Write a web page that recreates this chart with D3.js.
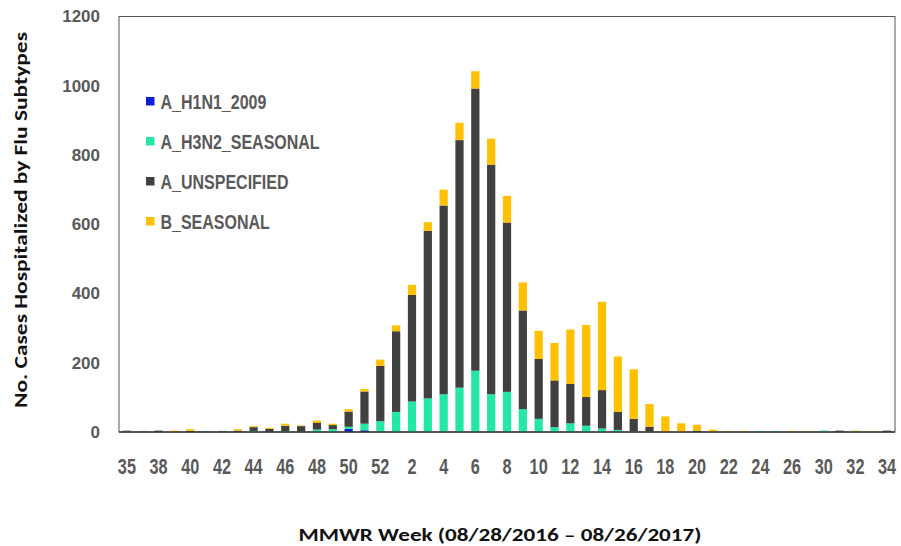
<!DOCTYPE html>
<html>
<head>
<meta charset="utf-8">
<script src="https://cdn.jsdelivr.net/npm/d3@7"></script>
<style>
  body { margin: 0; background: #fff; }
  svg { display: block; }
</style>
</head>
<body>
<div id="chart"></div>
<script>
// MMWR weeks 2016-2017 season (every other label is shown on the axis)
const weeks = [35, 37, 38, 39, 40, 41, 42, 43, 44, 45, 46, 47, 48, 49, 50, 51, 52,
  1, 2, 3, 4, 5, 6, 7, 8, 9, 10, 11, 12, 13, 14, 15, 16, 17, 18, 19, 20,
  21, 22, 23, 24, 25, 26, 28, 30, 31, 32, 33, 34]

// cases per subtype, one value per week
const h1n1 = [0, 0, 0, 0, 0, 0, 0, 0, 0, 0, 0, 0, 0, 0, 9, 5, 1,
  0, 0, 0, 0, 0, 0, 0, 0, 0, 0, 0, 0, 0, 0, 0, 0, 0, 0, 0, 0,
  0, 0, 0, 0, 0, 0, 0, 0, 0, 0, 0, 0]
const h3n2 = [2, 2, 0, 0, 0, 2, 1, 0, 3, 0, 2, 1, 7, 8, 6, 19, 30,
  58, 88, 97, 109, 128, 177, 109, 116, 66, 38, 14, 25, 18, 10, 6, 2, 1, 0, 0, 0,
  0, 0, 0, 3, 3, 0, 0, 4, 0, 2, 0, 0]
const aUnspecified = [2, 1, 4, 0, 3, 1, 2, 4, 11, 9, 16, 16, 19, 12, 44, 93, 160,
  233, 308, 484, 545, 715, 815, 663, 489, 285, 173, 135, 114, 83, 111, 52, 36, 14, 1, 0, 4,
  0, 0, 0, 0, 0, 0, 0, 0, 4, 0, 0, 4]
const bSeasonal = [0, 0, 0, 4, 5, 0, 0, 4, 3, 3, 6, 2, 7, 4, 7, 7, 18,
  17, 29, 25, 46, 50, 50, 75, 77, 81, 81, 108, 157, 208, 255, 160, 143, 66, 44, 25, 17,
  7, 3, 3, 0, 0, 3, 2, 0, 0, 2, 2, 0]

const subtypes = ["A_H1N1_2009", "A_H3N2_SEASONAL", "A_UNSPECIFIED", "B_SEASONAL"]
const subtypeColors = ["#0a1fd2", "#22e8a2", "#404040", "#ffc000"]
const yTicks = [0, 200, 400, 600, 800, 1000, 1200]

// build rows for the stack layout
const rows = weeks.map(function(w, i) {
  return {week: w, "A_H1N1_2009": h1n1[i], "A_H3N2_SEASONAL": h3n2[i],
    "A_UNSPECIFIED": aUnspecified[i], "B_SEASONAL": bSeasonal[i]}
})

const W = 901, H = 546
const plot = {left: 119, right: 895, top: 16.5, bottom: 432}

const svg = d3.select("#chart").append("svg")
  .attr("width", W).attr("height", H)

svg.append("rect").attr("width", W).attr("height", H).attr("fill", "#fff")

const x = d3.scaleBand()
  .domain(weeks)
  .range([plot.left, plot.right])
  .paddingInner(0.48)
  .paddingOuter(0.24)

const y = d3.scaleLinear()
  .domain([0, 1200])
  .range([plot.bottom, plot.top])

const color = d3.scaleOrdinal().domain(subtypes).range(subtypeColors)

// frame around the plot area
svg.append("rect")
  .attr("x", plot.left).attr("y", plot.top)
  .attr("width", plot.right - plot.left).attr("height", plot.bottom - plot.top)
  .attr("fill", "none").attr("stroke", "#555").attr("stroke-width", 1)

// stacked bars
const series = d3.stack().keys(subtypes)(rows)
svg.append("g").selectAll("g")
  .data(series)
  .enter().append("g")
    .attr("fill", function(s) { return color(s.key) })
  .selectAll("rect")
  .data(function(s) { return s })
  .enter().append("rect")
    .attr("x", function(d) { return x(d.data.week) })
    .attr("width", x.bandwidth())
    .attr("y", function(d) { return y(d[1]) })
    .attr("height", function(d) { return y(d[0]) - y(d[1]) })

// bottom axis line
svg.append("line")
  .attr("x1", plot.left).attr("x2", plot.right)
  .attr("y1", plot.bottom).attr("y2", plot.bottom)
  .attr("stroke", "#3a3a3a").attr("stroke-width", 1.5)

// y axis labels
const yAxis = svg.append("g")
  .attr("transform", "translate(" + plot.left + ",0)")
  .call(d3.axisLeft(y).tickValues(yTicks).tickFormat(d3.format("d")).tickSize(0).tickPadding(19))
yAxis.select(".domain").remove()
yAxis.selectAll("text")
  .attr("fill", "#595959")
  .style("font-family", "'Liberation Sans', Arial, sans-serif")
  .style("font-weight", "bold")
  .style("font-size", "17px")

// x axis labels, every other week
const xAxis = svg.append("g")
  .attr("transform", "translate(0," + plot.bottom + ")")
  .call(d3.axisBottom(x)
    .tickValues(weeks.filter(function(w, i) { return i % 2 === 0 }))
    .tickSize(0).tickPadding(0))
xAxis.select(".domain").remove()
xAxis.selectAll("text")
  .attr("fill", "#595959")
  .attr("y", 0)
  .attr("dy", 0)
  .attr("transform", "translate(0,42) scale(0.74,1)")
  .style("font-family", "'Liberation Sans', Arial, sans-serif")
  .style("font-weight", "bold")
  .style("font-size", "22px")

// legend
const legend = svg.append("g").selectAll("g")
  .data(subtypes)
  .enter().append("g")
    .attr("transform", function(d, i) { return "translate(146," + (101.5 + i * 40) + ")" })
legend.append("rect")
  .attr("x", 0).attr("y", -4.5)
  .attr("width", 8.5).attr("height", 8.5)
  .attr("fill", function(d) { return color(d) })
legend.append("text")
  .attr("transform", "translate(14.5,7) scale(0.8,1)")
  .attr("fill", "#595959")
  .style("font-family", "'Liberation Sans', Arial, sans-serif")
  .style("font-weight", "bold")
  .style("font-size", "20px")
  .text(function(d) { return d })

// axis titles
svg.append("text")
  .attr("transform", "translate(27,220) rotate(-90)")
  .attr("text-anchor", "middle")
  .attr("textLength", 376)
  .attr("lengthAdjust", "spacingAndGlyphs")
  .attr("fill", "#111")
  .style("font-family", "Carlito, 'Open Sans', sans-serif")
  .style("font-weight", "bold")
  .style("font-size", "17px")
  .text("No. Cases Hospitalized by Flu Subtypes")

svg.append("text")
  .attr("x", 500).attr("y", 541)
  .attr("text-anchor", "middle")
  .attr("textLength", 403)
  .attr("lengthAdjust", "spacingAndGlyphs")
  .attr("fill", "#111")
  .style("font-family", "Carlito, 'Open Sans', sans-serif")
  .style("font-weight", "bold")
  .style("font-size", "18px")
  .text("MMWR Week (08/28/2016 \u2013 08/26/2017)")
</script>
</body>
</html>
